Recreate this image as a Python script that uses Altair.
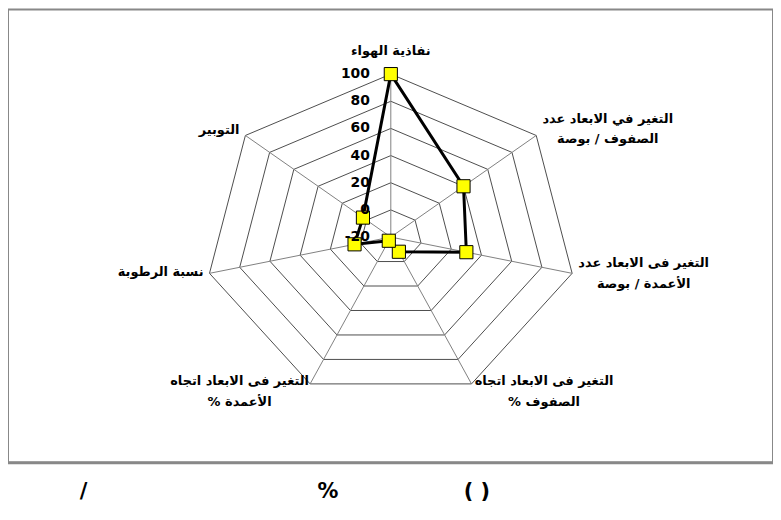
import altair as alt
import pandas as pd

# ---- data ----
categories = [
    "نفاذية الهواء",
    "التغير في الابعاد عدد\nالصفوف / بوصة",
    "التغير فى الابعاد عدد\nالأعمدة / بوصة",
    "التغير فى الابعاد اتجاه\n% الصفوف",
    "التغير فى الابعاد اتجاه\n% الأعمدة",
    "نسبة الرطوبة",
    "التوبير",
]
values = [100, 40, 30, -8, -17, 4, 3]
ticks = [-20, 0, 20, 40, 60, 80, 100]
caption = ["/", "%", "( )"]

AXIS_MIN, AXIS_MAX = -20, 100
N = len(categories)

series = pd.DataFrame({"k": list(range(N)) + [N], "value": values + [values[0]]})
points = pd.DataFrame({"k": list(range(N)), "value": values})
rings = pd.DataFrame(
    [{"ring": t, "k": k, "value": t} for t in ticks[1:] for k in range(N + 1)]
)
spokes = pd.DataFrame({"k": list(range(N)), "value": [AXIS_MAX] * N})
tick_df = pd.DataFrame({"k": [0] * len(ticks), "value": ticks, "label": [str(t) for t in ticks]})
label_df = pd.DataFrame({"k": list(range(N)), "value": [AXIS_MAX] * N, "name": categories})
cap_df = pd.DataFrame({"t": caption})


def polar(ch):
    return (
        ch.transform_calculate(theta=f"datum.k * 2 * PI / {N}")
        .transform_calculate(r=f"datum.value - ({AXIS_MIN})")
        .transform_calculate(px="datum.r * sin(datum.theta)", py="datum.r * cos(datum.theta)")
    )


xs = alt.Scale(domain=[-247, 246.6], nice=False, zero=False)
ys = alt.Scale(domain=[-166.1, 167.5], nice=False, zero=False)
X = alt.X("px:Q", scale=xs, axis=None)
Y = alt.Y("py:Q", scale=ys, axis=None)

ring_layer = polar(alt.Chart(rings)).mark_line(color="#4d4d4d", strokeWidth=1).encode(
    x=X, y=Y, detail="ring:N", order="k:Q"
)

spoke_layer = (
    polar(alt.Chart(spokes))
    .transform_calculate(x0="0", y0="0")
    .mark_rule(color="#808080", strokeWidth=1)
    .encode(x=alt.X("x0:Q", scale=xs, axis=None), y=alt.Y("y0:Q", scale=ys, axis=None), x2="px:Q", y2="py:Q")
)

line_layer = polar(alt.Chart(series)).mark_line(color="black", strokeWidth=3).encode(
    x=X, y=Y, order="k:Q"
)

point_layer = polar(alt.Chart(points)).mark_point(
    shape="square", filled=True, fill="#FFFF00", stroke="black", strokeWidth=1, size=175, opacity=1
).encode(x=X, y=Y)

tick_layer = polar(alt.Chart(tick_df)).mark_text(
    align="right", baseline="middle", dx=-21, font="DejaVu Sans", fontSize=14, fontWeight="bold", color="black"
).encode(x=X, y=Y, text="label:N")

label_styles = [
    dict(align="center", dx=0, dy=-23),
    dict(align="center", dx=72, dy=-17),
    dict(align="center", dx=72, dy=-10),
    dict(align="center", dx=73, dy=-3),
    dict(align="center", dx=-71, dy=-3),
    dict(align="right", dx=-6, dy=-1),
    dict(align="right", dx=-6, dy=-5),
]
label_layers = []
for i, st in enumerate(label_styles):
    label_layers.append(
        polar(alt.Chart(label_df))
        .transform_filter(f"datum.k == {i}")
        .mark_text(
            baseline="middle", font="DejaVu Sans", fontSize=13, fontWeight="bold",
            color="black", lineBreak="\n", lineHeight=21, **st
        )
        .encode(x=X, y=Y, text="name:N")
    )

cap_pos = [76, 322, 472]
cap_layers = []
for i, cx in enumerate(cap_pos):
    cap_layers.append(
        alt.Chart(cap_df)
        .transform_window(idx="row_number()")
        .transform_filter(f"datum.idx == {i + 1}")
        .mark_text(font="DejaVu Sans", fontSize=21, fontWeight="bold", color="black", baseline="middle")
        .encode(x=alt.value(cx), y=alt.value(486), text="t:N")
    )

bottom_rule = alt.Chart(cap_df.head(1)).mark_rule(color="#888888", strokeWidth=3).encode(
    x=alt.value(0), x2=alt.value(770), y=alt.value(456)
)

chart = (
    alt.layer(ring_layer, spoke_layer, line_layer, point_layer, tick_layer, *label_layers, *cap_layers, bottom_rule)
    .properties(
        width=770,
        height=456,
        autosize=alt.AutoSizeParams(type="none"),
        padding={"left": 0, "top": 0, "right": 0, "bottom": 38},
        background="white",
    )
    .configure_view(stroke="#888888", strokeWidth=2)
)

chart.save("out.html", embed_options={"renderer": "svg", "actions": False})
